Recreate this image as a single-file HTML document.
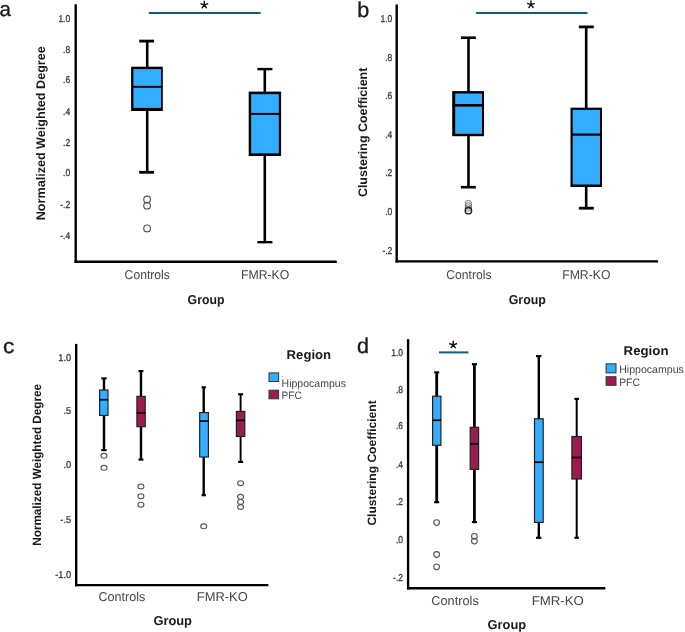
<!DOCTYPE html>
<html><head><meta charset="utf-8"><style>
html,body{margin:0;padding:0;background:#fff;}
svg{display:block;will-change:transform;}
text{font-family:"Liberation Sans", sans-serif;text-rendering:geometricPrecision;}
</style></head><body>
<svg width="685" height="632" viewBox="0 0 685 632">
<rect width="685" height="632" fill="#fff"/>
<text x="-0.5" y="15.6" font-size="20.5" fill="#1a1a1a" font-weight="normal" text-anchor="start" stroke="#1a1a1a" stroke-width="0.35">a</text>
<line x1="75.7" y1="4.3" x2="75.7" y2="263" stroke="#000" stroke-width="2.4" stroke-linecap="butt"/>
<line x1="74.5" y1="261.7" x2="336.8" y2="261.7" stroke="#000" stroke-width="2.4" stroke-linecap="butt"/>
<text transform="translate(70.2,21.9) scale(0.85,1)" x="0" y="0" font-size="10" fill="#3a3a3a" stroke="#3a3a3a" stroke-width="0.3" text-anchor="end">1.0</text>
<text transform="translate(70.2,52.6) scale(0.85,1)" x="0" y="0" font-size="10" fill="#3a3a3a" stroke="#3a3a3a" stroke-width="0.3" text-anchor="end">.8</text>
<text transform="translate(70.2,83.3) scale(0.85,1)" x="0" y="0" font-size="10" fill="#3a3a3a" stroke="#3a3a3a" stroke-width="0.3" text-anchor="end">.6</text>
<text transform="translate(70.2,114.7) scale(0.85,1)" x="0" y="0" font-size="10" fill="#3a3a3a" stroke="#3a3a3a" stroke-width="0.3" text-anchor="end">.4</text>
<text transform="translate(70.2,145.7) scale(0.85,1)" x="0" y="0" font-size="10" fill="#3a3a3a" stroke="#3a3a3a" stroke-width="0.3" text-anchor="end">.2</text>
<text transform="translate(70.2,176.1) scale(0.85,1)" x="0" y="0" font-size="10" fill="#3a3a3a" stroke="#3a3a3a" stroke-width="0.3" text-anchor="end">.0</text>
<text transform="translate(70.2,207.6) scale(0.85,1)" x="0" y="0" font-size="10" fill="#3a3a3a" stroke="#3a3a3a" stroke-width="0.3" text-anchor="end">-.2</text>
<text transform="translate(70.2,239.0) scale(0.85,1)" x="0" y="0" font-size="10" fill="#3a3a3a" stroke="#3a3a3a" stroke-width="0.3" text-anchor="end">-.4</text>
<text transform="translate(45.3,133.25) rotate(-90)" x="0" y="0" font-size="12.5" fill="#1a1a1a" font-weight="bold" text-anchor="middle" textLength="174" lengthAdjust="spacingAndGlyphs">Normalized Weighted Degree</text>
<line x1="148.7" y1="12.95" x2="260.6" y2="12.95" stroke="#125d80" stroke-width="2.0" stroke-linecap="butt"/>
<path d="M204.30,4.90L204.30,0.80M204.30,4.90L200.40,3.63M204.30,4.90L201.89,8.22M204.30,4.90L206.71,8.22M204.30,4.90L208.20,3.63" stroke="#111" stroke-width="1.4" fill="none" stroke-linecap="butt"/>
<line x1="147.2" y1="41.1" x2="147.2" y2="172.3" stroke="#000" stroke-width="2.6" stroke-linecap="butt"/>
<line x1="139.2" y1="41.1" x2="154.1" y2="41.1" stroke="#000" stroke-width="2.8" stroke-linecap="butt"/>
<line x1="139.2" y1="172.3" x2="154.1" y2="172.3" stroke="#000" stroke-width="2.8" stroke-linecap="butt"/>
<rect x="131.1" y="66.7" width="31.70" height="44.30" fill="#000"/>
<rect x="133.40" y="69.10" width="27.60" height="38.80" fill="#33adff"/>
<line x1="131.60" y1="86.8" x2="162.30" y2="86.8" stroke="#000" stroke-width="1.9"/>
<circle cx="147.1" cy="199.5" r="3.35" fill="none" stroke="#555" stroke-width="1.15"/>
<circle cx="147.1" cy="205.7" r="3.35" fill="none" stroke="#555" stroke-width="1.15"/>
<circle cx="147.1" cy="228.4" r="3.35" fill="none" stroke="#555" stroke-width="1.15"/>
<line x1="264.8" y1="69.1" x2="264.8" y2="242.2" stroke="#000" stroke-width="2.6" stroke-linecap="butt"/>
<line x1="257.4" y1="69.1" x2="272.4" y2="69.1" stroke="#000" stroke-width="2.4" stroke-linecap="butt"/>
<line x1="257.4" y1="242.2" x2="272.4" y2="242.2" stroke="#000" stroke-width="2.4" stroke-linecap="butt"/>
<rect x="248.7" y="91.6" width="32.40" height="64.40" fill="#000"/>
<rect x="251.10" y="94.20" width="27.70" height="59.10" fill="#33adff"/>
<line x1="249.20" y1="113.9" x2="280.60" y2="113.9" stroke="#000" stroke-width="2.0"/>
<text x="124.6" y="279" font-size="12.8" fill="#444" font-weight="normal" text-anchor="start" textLength="45.3" lengthAdjust="spacingAndGlyphs" >Controls</text>
<text x="241.0" y="278.8" font-size="12.8" fill="#444" font-weight="normal" text-anchor="start" textLength="48.3" lengthAdjust="spacingAndGlyphs" >FMR-KO</text>
<text x="187.6" y="303.9" font-size="12.8" fill="#1a1a1a" font-weight="bold" text-anchor="start" textLength="36.8" lengthAdjust="spacingAndGlyphs" >Group</text>
<text x="357.3" y="16.6" font-size="21.5" fill="#1a1a1a" font-weight="normal" text-anchor="start" stroke="#1a1a1a" stroke-width="0.35">b</text>
<line x1="396.7" y1="4.4" x2="396.7" y2="262.6" stroke="#000" stroke-width="2.4" stroke-linecap="butt"/>
<line x1="395.5" y1="261.4" x2="658.1" y2="261.4" stroke="#000" stroke-width="2.4" stroke-linecap="butt"/>
<text transform="translate(392.3,21.8) scale(0.85,1)" x="0" y="0" font-size="10" fill="#3a3a3a" stroke="#3a3a3a" stroke-width="0.3" text-anchor="end">1.0</text>
<text transform="translate(392.3,60.6) scale(0.85,1)" x="0" y="0" font-size="10" fill="#3a3a3a" stroke="#3a3a3a" stroke-width="0.3" text-anchor="end">.8</text>
<text transform="translate(392.3,98.5) scale(0.85,1)" x="0" y="0" font-size="10" fill="#3a3a3a" stroke="#3a3a3a" stroke-width="0.3" text-anchor="end">.6</text>
<text transform="translate(392.3,137.6) scale(0.85,1)" x="0" y="0" font-size="10" fill="#3a3a3a" stroke="#3a3a3a" stroke-width="0.3" text-anchor="end">.4</text>
<text transform="translate(392.3,175.6) scale(0.85,1)" x="0" y="0" font-size="10" fill="#3a3a3a" stroke="#3a3a3a" stroke-width="0.3" text-anchor="end">.2</text>
<text transform="translate(392.3,214.7) scale(0.85,1)" x="0" y="0" font-size="10" fill="#3a3a3a" stroke="#3a3a3a" stroke-width="0.3" text-anchor="end">.0</text>
<text transform="translate(392.3,253.8) scale(0.85,1)" x="0" y="0" font-size="10" fill="#3a3a3a" stroke="#3a3a3a" stroke-width="0.3" text-anchor="end">-.2</text>
<text transform="translate(366.6,132.4) rotate(-90)" x="0" y="0" font-size="12.4" fill="#1a1a1a" font-weight="bold" text-anchor="middle" textLength="129.4" lengthAdjust="spacingAndGlyphs">Clustering Coefficient</text>
<line x1="476.1" y1="13" x2="587.5" y2="13" stroke="#125d80" stroke-width="2.0" stroke-linecap="butt"/>
<path d="M531.00,4.70L531.00,0.60M531.00,4.70L527.10,3.43M531.00,4.70L528.59,8.02M531.00,4.70L533.41,8.02M531.00,4.70L534.90,3.43" stroke="#111" stroke-width="1.4" fill="none" stroke-linecap="butt"/>
<line x1="468.5" y1="37.7" x2="468.5" y2="187.2" stroke="#000" stroke-width="2.6" stroke-linecap="butt"/>
<line x1="460.9" y1="37.7" x2="475.8" y2="37.7" stroke="#000" stroke-width="2.6" stroke-linecap="butt"/>
<line x1="460.9" y1="187.2" x2="475.8" y2="187.2" stroke="#000" stroke-width="2.6" stroke-linecap="butt"/>
<rect x="452.2" y="91.1" width="31.80" height="45.10" fill="#000"/>
<rect x="455.20" y="93.50" width="26.80" height="40.30" fill="#33adff"/>
<line x1="452.70" y1="105.3" x2="483.50" y2="105.3" stroke="#000" stroke-width="2.6"/>
<circle cx="468.4" cy="203.6" r="3.2" fill="none" stroke="#777" stroke-width="1.0"/>
<circle cx="468.4" cy="205.9" r="3.2" fill="none" stroke="#777" stroke-width="1.0"/>
<circle cx="468.4" cy="208.0" r="3.2" fill="none" stroke="#777" stroke-width="1.0"/>
<circle cx="468.4" cy="210.7" r="3.2" fill="none" stroke="#222" stroke-width="1.4"/>
<line x1="586.2" y1="26.9" x2="586.2" y2="208.2" stroke="#000" stroke-width="2.6" stroke-linecap="butt"/>
<line x1="578.8" y1="26.9" x2="593.8" y2="26.9" stroke="#000" stroke-width="2.8" stroke-linecap="butt"/>
<line x1="578.8" y1="208.2" x2="593.8" y2="208.2" stroke="#000" stroke-width="2.8" stroke-linecap="butt"/>
<rect x="570.5" y="107.7" width="31.50" height="79.30" fill="#000"/>
<rect x="572.70" y="109.90" width="27.30" height="74.60" fill="#33adff"/>
<line x1="571.00" y1="134.6" x2="601.50" y2="134.6" stroke="#000" stroke-width="2.2"/>
<text x="446.3" y="279" font-size="12.8" fill="#444" font-weight="normal" text-anchor="start" textLength="45.3" lengthAdjust="spacingAndGlyphs" >Controls</text>
<text x="562.2" y="278.9" font-size="12.8" fill="#444" font-weight="normal" text-anchor="start" textLength="48.3" lengthAdjust="spacingAndGlyphs" >FMR-KO</text>
<text x="508.7" y="303.7" font-size="12.8" fill="#1a1a1a" font-weight="bold" text-anchor="start" textLength="37.2" lengthAdjust="spacingAndGlyphs" >Group</text>
<text x="3.1" y="352.6" font-size="20.5" fill="#1a1a1a" font-weight="normal" text-anchor="start" textLength="11.3" lengthAdjust="spacingAndGlyphs" stroke="#1a1a1a" stroke-width="0.35">c</text>
<line x1="76.2" y1="343.9" x2="76.2" y2="586.3" stroke="#000" stroke-width="2.4" stroke-linecap="butt"/>
<line x1="75" y1="585.1" x2="268.4" y2="585.1" stroke="#000" stroke-width="2.4" stroke-linecap="butt"/>
<text transform="translate(71.1,360.5) scale(0.92,1)" x="0" y="0" font-size="10" fill="#3a3a3a" stroke="#3a3a3a" stroke-width="0.3" text-anchor="end">1.0</text>
<text transform="translate(71.1,414.3) scale(0.92,1)" x="0" y="0" font-size="10" fill="#3a3a3a" stroke="#3a3a3a" stroke-width="0.3" text-anchor="end">.5</text>
<text transform="translate(71.1,468.4) scale(0.92,1)" x="0" y="0" font-size="10" fill="#3a3a3a" stroke="#3a3a3a" stroke-width="0.3" text-anchor="end">.0</text>
<text transform="translate(71.1,523.3) scale(0.92,1)" x="0" y="0" font-size="10" fill="#3a3a3a" stroke="#3a3a3a" stroke-width="0.3" text-anchor="end">-.5</text>
<text transform="translate(71.1,577.8) scale(0.92,1)" x="0" y="0" font-size="10" fill="#3a3a3a" stroke="#3a3a3a" stroke-width="0.3" text-anchor="end">-1.0</text>
<text transform="translate(41.2,464.85) rotate(-90)" x="0" y="0" font-size="12.0" fill="#1a1a1a" font-weight="bold" text-anchor="middle" textLength="161.7" lengthAdjust="spacingAndGlyphs">Normalized Weighted Degree</text>
<line x1="104" y1="378.4" x2="104" y2="450.1" stroke="#000" stroke-width="2.4" stroke-linecap="butt"/>
<line x1="101.3" y1="378.4" x2="106.6" y2="378.4" stroke="#000" stroke-width="2.2" stroke-linecap="butt"/>
<line x1="101.3" y1="450.1" x2="106.6" y2="450.1" stroke="#000" stroke-width="2.2" stroke-linecap="butt"/>
<rect x="99.60" y="390.00" width="8.40" height="25.40" fill="#33adff" stroke="#222" stroke-width="1.2"/>
<line x1="99.40" y1="399.7" x2="108.20" y2="399.7" stroke="#000" stroke-width="1.7"/>
<ellipse cx="104" cy="455.8" rx="3.0" ry="2.4" fill="none" stroke="#555" stroke-width="1.1"/>
<ellipse cx="104" cy="467.8" rx="3.0" ry="2.4" fill="none" stroke="#555" stroke-width="1.1"/>
<line x1="141" y1="371.1" x2="141" y2="459.6" stroke="#000" stroke-width="2.4" stroke-linecap="butt"/>
<line x1="138.5" y1="371.1" x2="143.4" y2="371.1" stroke="#000" stroke-width="2.2" stroke-linecap="butt"/>
<line x1="138.5" y1="459.6" x2="143.4" y2="459.6" stroke="#000" stroke-width="2.2" stroke-linecap="butt"/>
<rect x="136.90" y="396.40" width="8.30" height="30.30" fill="#a0194f" stroke="#222" stroke-width="1.2"/>
<line x1="136.70" y1="412.9" x2="145.40" y2="412.9" stroke="#000" stroke-width="1.7"/>
<ellipse cx="140.9" cy="486.4" rx="3.0" ry="2.4" fill="none" stroke="#555" stroke-width="1.1"/>
<ellipse cx="140.9" cy="496.2" rx="3.0" ry="2.4" fill="none" stroke="#555" stroke-width="1.1"/>
<ellipse cx="140.9" cy="504.7" rx="3.0" ry="2.4" fill="none" stroke="#555" stroke-width="1.1"/>
<line x1="203.7" y1="387.3" x2="203.7" y2="495.2" stroke="#000" stroke-width="2.4" stroke-linecap="butt"/>
<line x1="201.6" y1="387.3" x2="205.9" y2="387.3" stroke="#000" stroke-width="2.2" stroke-linecap="butt"/>
<line x1="201.6" y1="495.2" x2="205.9" y2="495.2" stroke="#000" stroke-width="2.2" stroke-linecap="butt"/>
<rect x="199.70" y="412.60" width="8.70" height="44.40" fill="#33adff" stroke="#222" stroke-width="1.2"/>
<line x1="199.50" y1="421.1" x2="208.60" y2="421.1" stroke="#000" stroke-width="1.7"/>
<ellipse cx="203.7" cy="526.3" rx="3.0" ry="2.4" fill="none" stroke="#555" stroke-width="1.1"/>
<line x1="240.6" y1="394.3" x2="240.6" y2="461.9" stroke="#000" stroke-width="1.9" stroke-linecap="butt"/>
<line x1="238.1" y1="394.3" x2="243.1" y2="394.3" stroke="#000" stroke-width="2.2" stroke-linecap="butt"/>
<line x1="238.1" y1="461.9" x2="243.1" y2="461.9" stroke="#000" stroke-width="2.2" stroke-linecap="butt"/>
<rect x="236.40" y="411.40" width="8.40" height="25.10" fill="#a0194f" stroke="#222" stroke-width="1.2"/>
<line x1="236.20" y1="420.4" x2="245.00" y2="420.4" stroke="#000" stroke-width="1.7"/>
<ellipse cx="240.6" cy="483.2" rx="3.0" ry="2.4" fill="none" stroke="#555" stroke-width="1.1"/>
<ellipse cx="240.6" cy="496.8" rx="3.0" ry="2.4" fill="none" stroke="#555" stroke-width="1.1"/>
<ellipse cx="240.6" cy="501.9" rx="3.0" ry="2.4" fill="none" stroke="#555" stroke-width="1.1"/>
<ellipse cx="240.6" cy="507" rx="3.0" ry="2.4" fill="none" stroke="#555" stroke-width="1.1"/>
<text x="98.4" y="601" font-size="12.8" fill="#444" font-weight="normal" text-anchor="start" textLength="47" lengthAdjust="spacingAndGlyphs" >Controls</text>
<text x="196.8" y="601" font-size="12.8" fill="#444" font-weight="normal" text-anchor="start" textLength="50.9" lengthAdjust="spacingAndGlyphs" >FMR-KO</text>
<text x="153.4" y="624.7" font-size="12.8" fill="#1a1a1a" font-weight="bold" text-anchor="start" textLength="38.6" lengthAdjust="spacingAndGlyphs" >Group</text>
<text x="286.6" y="359.3" font-size="12.8" fill="#1a1a1a" font-weight="bold" text-anchor="start" textLength="44.5" lengthAdjust="spacingAndGlyphs" >Region</text>
<rect x="269" y="372.9" width="9.6" height="8.6" fill="#33adff" stroke="#333" stroke-width="1"/>
<rect x="269" y="390.2" width="9.6" height="8.6" fill="#a0194f" stroke="#333" stroke-width="1"/>
<text x="281.6" y="386.7" font-size="10.8" fill="#444" font-weight="normal" text-anchor="start" textLength="64.3" lengthAdjust="spacingAndGlyphs" >Hippocampus</text>
<text x="281.6" y="399.0" font-size="10.8" fill="#444" font-weight="normal" text-anchor="start" textLength="20.2" lengthAdjust="spacingAndGlyphs" >PFC</text>
<circle cx="282.5" cy="376.4" r="0.5" fill="#666"/>
<text x="357.1" y="353.3" font-size="21.5" fill="#1a1a1a" font-weight="normal" text-anchor="start" stroke="#1a1a1a" stroke-width="0.35">d</text>
<line x1="408.1" y1="339.2" x2="408.1" y2="589.4" stroke="#000" stroke-width="2.4" stroke-linecap="butt"/>
<line x1="407" y1="588.2" x2="605.3" y2="588.2" stroke="#000" stroke-width="2.4" stroke-linecap="butt"/>
<text transform="translate(403.0,355.7) scale(0.85,1)" x="0" y="0" font-size="10" fill="#3a3a3a" stroke="#3a3a3a" stroke-width="0.3" text-anchor="end">1.0</text>
<text transform="translate(403.0,392.9) scale(0.85,1)" x="0" y="0" font-size="10" fill="#3a3a3a" stroke="#3a3a3a" stroke-width="0.3" text-anchor="end">.8</text>
<text transform="translate(403.0,429.3) scale(0.85,1)" x="0" y="0" font-size="10" fill="#3a3a3a" stroke="#3a3a3a" stroke-width="0.3" text-anchor="end">.6</text>
<text transform="translate(403.0,468.1) scale(0.85,1)" x="0" y="0" font-size="10" fill="#3a3a3a" stroke="#3a3a3a" stroke-width="0.3" text-anchor="end">.4</text>
<text transform="translate(403.0,505.3) scale(0.85,1)" x="0" y="0" font-size="10" fill="#3a3a3a" stroke="#3a3a3a" stroke-width="0.3" text-anchor="end">.2</text>
<text transform="translate(403.0,542.8) scale(0.85,1)" x="0" y="0" font-size="10" fill="#3a3a3a" stroke="#3a3a3a" stroke-width="0.3" text-anchor="end">.0</text>
<text transform="translate(403.0,580.8) scale(0.85,1)" x="0" y="0" font-size="10" fill="#3a3a3a" stroke="#3a3a3a" stroke-width="0.3" text-anchor="end">-.2</text>
<text transform="translate(376.4,462.95) rotate(-90)" x="0" y="0" font-size="12.0" fill="#1a1a1a" font-weight="bold" text-anchor="middle" textLength="125.3" lengthAdjust="spacingAndGlyphs">Clustering Coefficient</text>
<line x1="439" y1="352.4" x2="468.4" y2="352.4" stroke="#125d80" stroke-width="2.0" stroke-linecap="butt"/>
<path d="M453.20,344.80L453.20,340.70M453.20,344.80L449.30,343.53M453.20,344.80L450.79,348.12M453.20,344.80L455.61,348.12M453.20,344.80L457.10,343.53" stroke="#111" stroke-width="1.4" fill="none" stroke-linecap="butt"/>
<line x1="436.7" y1="372.4" x2="436.7" y2="502.2" stroke="#000" stroke-width="2.8" stroke-linecap="butt"/>
<line x1="434.2" y1="372.4" x2="439.2" y2="372.4" stroke="#000" stroke-width="2.2" stroke-linecap="butt"/>
<line x1="434.2" y1="502.2" x2="439.2" y2="502.2" stroke="#000" stroke-width="2.2" stroke-linecap="butt"/>
<rect x="432.60" y="396.20" width="8.30" height="49.10" fill="#33adff" stroke="#222" stroke-width="1.2"/>
<line x1="432.40" y1="420.3" x2="441.10" y2="420.3" stroke="#000" stroke-width="1.7"/>
<circle cx="436.6" cy="522.6" r="2.85" fill="none" stroke="#555" stroke-width="1.15"/>
<circle cx="436.6" cy="554.5" r="2.85" fill="none" stroke="#555" stroke-width="1.15"/>
<circle cx="436.6" cy="566.8" r="2.85" fill="none" stroke="#555" stroke-width="1.15"/>
<line x1="474.4" y1="364.2" x2="474.4" y2="522.1" stroke="#000" stroke-width="2.8" stroke-linecap="butt"/>
<line x1="471.9" y1="364.2" x2="477" y2="364.2" stroke="#000" stroke-width="2.2" stroke-linecap="butt"/>
<line x1="471.9" y1="522.1" x2="477" y2="522.1" stroke="#000" stroke-width="2.2" stroke-linecap="butt"/>
<rect x="470.20" y="427.30" width="8.40" height="42.10" fill="#a0194f" stroke="#222" stroke-width="1.2"/>
<line x1="470.00" y1="443.8" x2="478.80" y2="443.8" stroke="#000" stroke-width="1.7"/>
<circle cx="474.4" cy="536.3" r="2.85" fill="none" stroke="#555" stroke-width="1.15"/>
<circle cx="474.4" cy="541.1" r="2.85" fill="none" stroke="#555" stroke-width="1.15"/>
<line x1="538.8" y1="356.1" x2="538.8" y2="537.8" stroke="#000" stroke-width="2.4" stroke-linecap="butt"/>
<line x1="536" y1="356.1" x2="541.4" y2="356.1" stroke="#000" stroke-width="2.2" stroke-linecap="butt"/>
<line x1="536" y1="537.8" x2="541.4" y2="537.8" stroke="#000" stroke-width="2.2" stroke-linecap="butt"/>
<rect x="534.50" y="418.80" width="8.70" height="103.60" fill="#33adff" stroke="#222" stroke-width="1.2"/>
<line x1="534.30" y1="462.2" x2="543.40" y2="462.2" stroke="#000" stroke-width="1.7"/>
<line x1="576.7" y1="398.9" x2="576.7" y2="537.8" stroke="#000" stroke-width="2.0" stroke-linecap="butt"/>
<line x1="574.4" y1="398.9" x2="578.9" y2="398.9" stroke="#000" stroke-width="2.2" stroke-linecap="butt"/>
<line x1="574.4" y1="537.8" x2="578.9" y2="537.8" stroke="#000" stroke-width="2.2" stroke-linecap="butt"/>
<rect x="571.90" y="436.50" width="9.50" height="42.50" fill="#a0194f" stroke="#222" stroke-width="1.2"/>
<line x1="571.70" y1="457.5" x2="581.60" y2="457.5" stroke="#000" stroke-width="1.7"/>
<text x="431.3" y="604.6" font-size="12.8" fill="#444" font-weight="normal" text-anchor="start" textLength="47.5" lengthAdjust="spacingAndGlyphs" >Controls</text>
<text x="531.7" y="604.7" font-size="12.8" fill="#444" font-weight="normal" text-anchor="start" textLength="52.1" lengthAdjust="spacingAndGlyphs" >FMR-KO</text>
<text x="487.6" y="628.6" font-size="12.8" fill="#1a1a1a" font-weight="bold" text-anchor="start" textLength="38.6" lengthAdjust="spacingAndGlyphs" >Group</text>
<text x="623.6" y="354.8" font-size="12.8" fill="#1a1a1a" font-weight="bold" text-anchor="start" textLength="44.9" lengthAdjust="spacingAndGlyphs" >Region</text>
<rect x="606.1" y="363.8" width="9.9" height="9.1" fill="#33adff" stroke="#333" stroke-width="1"/>
<rect x="606.1" y="376.7" width="9.9" height="8.6" fill="#a0194f" stroke="#333" stroke-width="1"/>
<text x="619.2" y="372.8" font-size="10.8" fill="#444" font-weight="normal" text-anchor="start" textLength="64.6" lengthAdjust="spacingAndGlyphs" >Hippocampus</text>
<text x="619.2" y="385.8" font-size="10.8" fill="#444" font-weight="normal" text-anchor="start" textLength="20.8" lengthAdjust="spacingAndGlyphs" >PFC</text>
</svg>
</body></html>
